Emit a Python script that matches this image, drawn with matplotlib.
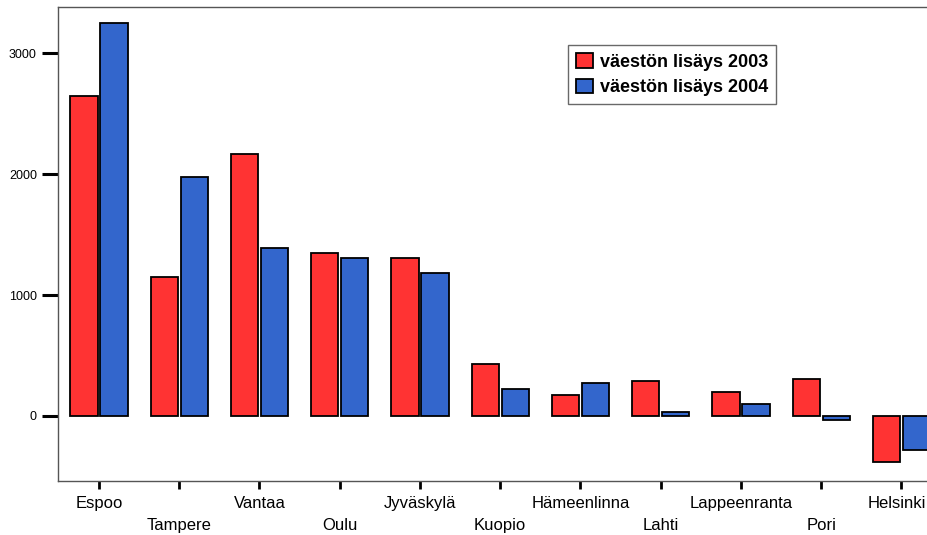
import numpy as np
import matplotlib
matplotlib.use("Agg")
import matplotlib.pyplot as plt
import matplotlib.transforms as mtransforms

plt.rcParams['font.family'] = ['Liberation Sans', 'DejaVu Sans']

cities = ["Espoo", "Tampere", "Vantaa", "Oulu", "Jyväskylä", "Kuopio",
          "Hämeenlinna", "Lahti", "Lappeenranta", "Pori", "Helsinki"]
growth_2003 = [2645, 1150, 2165, 1345, 1309, 433, 177, 293, 201, 304, -384]
growth_2004 = [3253, 1974, 1392, 1309, 1182, 224, 271, 33, 97, -33, -282]
y_ticks = [0, 1000, 2000, 3000]

RED = "#ff3333"
BLUE = "#3366cc"


def main():
    fig = plt.figure(figsize=(9.28, 5.35), dpi=100)
    # right edge runs past the figure, like the clipped original
    ax = fig.add_axes([0.063, 0.101, 0.952, 0.886])

    x = np.arange(len(cities))
    w = 0.34
    off = 0.187
    ax.bar(x - off, growth_2003, w, color=RED, edgecolor="black",
           linewidth=1.3, label="väestön lisäys 2003", zorder=3)
    ax.bar(x + off, growth_2004, w, color=BLUE, edgecolor="black",
           linewidth=1.3, label="väestön lisäys 2004", zorder=3)

    ax.set_xlim(-0.505, 10.505)
    ax.set_ylim(-538, 3383)

    ax.set_yticks(y_ticks)
    ax.set_yticklabels([str(v) for v in y_ticks], fontsize=9)
    ax.tick_params(axis="y", direction="out", length=11.5, width=2.2,
                   color="black", pad=4)

    # stagger the category labels on two rows
    labels = [c if i % 2 == 0 else "\n" + c for i, c in enumerate(cities)]
    ax.set_xticks(x)
    ax.set_xticklabels(labels, fontsize=12, linespacing=1.6)
    ax.tick_params(axis="x", direction="out", length=5.5, width=2,
                   color="black", pad=5)

    # nudge the last label so it stays inside the picture
    last = ax.get_xticklabels()[-1]
    last.set_transform(last.get_transform() +
                       mtransforms.ScaledTranslation(-5 / 100, 0, fig.dpi_scale_trans))

    for s in ax.spines.values():
        s.set_color("#555555")
        s.set_linewidth(1.0)

    leg = ax.legend(loc="upper left", bbox_to_anchor=(568 / 928, 1 - 45 / 535),
                    bbox_transform=fig.transFigure, frameon=True, fancybox=False,
                    prop={"weight": "bold", "size": 13}, handlelength=0.95,
                    handleheight=0.85, handletextpad=0.35, labelspacing=0.45,
                    borderpad=0.45, borderaxespad=0)
    leg.get_frame().set_edgecolor("#444444")
    leg.get_frame().set_linewidth(1.0)

    fig.savefig("out.png", dpi=100)


if __name__ == "__main__":
    main()
